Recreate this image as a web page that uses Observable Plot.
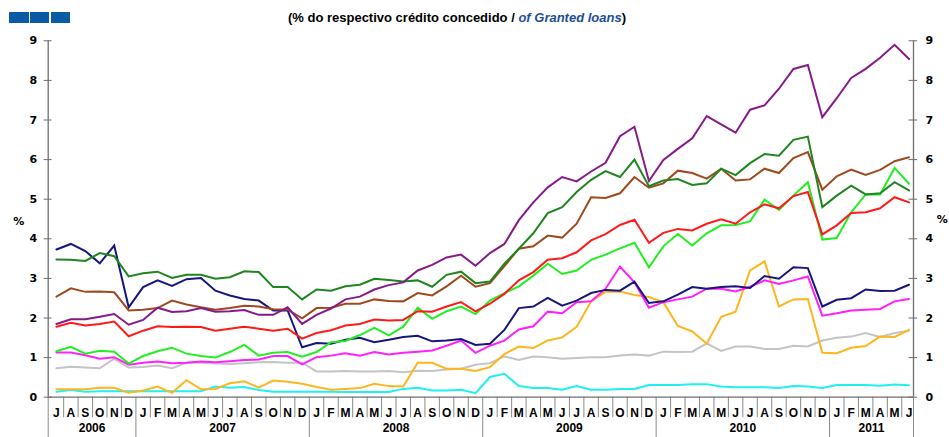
<!DOCTYPE html>
<html>
<head>
<meta charset="utf-8">
<script src="https://cdn.jsdelivr.net/npm/d3@7"></script>
<script src="https://cdn.jsdelivr.net/npm/@observablehq/plot@0.6"></script>
<style>
  html, body { margin: 0; padding: 0; background: #fff; }
  #wrap { position: relative; width: 949px; height: 437px; overflow: hidden; }
  #sub { position: absolute; top: 10px; left: 0; width: 914px; text-align: center;
         font-family: "Liberation Sans Narrow", "Arial Narrow", "Liberation Sans", sans-serif;
         font-stretch: condensed; font-weight: bold; font-size: 13px; color: #000; white-space: nowrap; }
  #sub i { color: #1d4f94; }
  .sq { position: absolute; top: 12px; height: 11px; background: #0b5aa5; }
  #chart { position: absolute; top: 0; left: 0; }
</style>
</head>
<body>
<div id="wrap">
  <div class="sq" style="left:9px;width:20px"></div>
  <div class="sq" style="left:30px;width:19px"></div>
  <div class="sq" style="left:51px;width:19px"></div>
  <div id="sub">(% do respectivo crédito concedido / <i>of Granted loans</i>)</div>
  <div id="chart"></div>
</div>
<script>
const monthLabels = ["J","A","S","O","N","D",
  "J","F","M","A","M","J","J","A","S","O","N","D",
  "J","F","M","A","M","J","J","A","S","O","N","D",
  "J","F","M","A","M","J","J","A","S","O","N","D",
  "J","F","M","A","M","J","J","A","S","O","N","D",
  "J","F","M","A","M","J"];
const yearLabels = ["2006","2007","2008","2009","2010","2011"];
const yearFirstMonth = [0, 6, 18, 30, 42, 54];
const yearLastMonth = [5, 17, 29, 41, 53, 59];
const yTicks = [0,1,2,3,4,5,6,7,8,9];

const purple = [1.85,1.97,1.97,2.03,2.10,1.83,
  1.95,2.26,2.15,2.17,2.25,2.16,2.17,2.20,2.08,2.08,2.27,1.85,
  2.08,2.24,2.47,2.54,2.72,2.83,2.90,3.20,3.34,3.53,3.60,3.32,
  3.64,3.87,4.47,4.92,5.30,5.56,5.45,5.70,5.92,6.59,6.83,5.46,
  5.99,6.27,6.54,7.10,6.89,6.68,7.26,7.37,7.79,8.29,8.39,7.07,
  7.55,8.06,8.29,8.57,8.90,8.54];
const darkGreen = [3.48,3.47,3.44,3.64,3.56,3.05,
  3.13,3.17,3.01,3.09,3.09,2.99,3.03,3.18,3.16,2.78,2.78,2.47,
  2.72,2.69,2.80,2.84,2.99,2.96,2.92,2.95,2.79,3.09,3.17,2.88,
  2.92,3.37,3.75,4.14,4.65,4.80,5.18,5.49,5.71,5.56,6.00,5.33,
  5.47,5.51,5.36,5.40,5.77,5.61,5.91,6.14,6.10,6.50,6.58,4.80,
  5.09,5.34,5.12,5.15,5.43,5.22];
const brown = [2.54,2.75,2.66,2.67,2.65,2.19,
  2.21,2.25,2.44,2.34,2.27,2.21,2.25,2.31,2.29,2.22,2.21,1.99,
  2.25,2.26,2.36,2.36,2.47,2.43,2.42,2.63,2.57,2.80,3.07,2.79,
  2.88,3.31,3.75,3.81,4.08,4.03,4.38,5.05,5.03,5.15,5.56,5.29,
  5.40,5.72,5.66,5.52,5.77,5.47,5.50,5.77,5.66,6.04,6.19,5.24,
  5.58,5.75,5.61,5.74,5.96,6.06];
const red = [1.78,1.88,1.81,1.85,1.91,1.54,
  1.68,1.79,1.77,1.78,1.77,1.68,1.73,1.78,1.73,1.68,1.73,1.48,
  1.62,1.69,1.81,1.85,1.96,1.94,1.95,2.17,2.16,2.29,2.40,2.17,
  2.36,2.61,2.95,3.16,3.47,3.51,3.66,3.96,4.12,4.35,4.48,3.90,
  4.15,4.25,4.21,4.38,4.49,4.38,4.67,4.87,4.77,5.08,5.18,4.11,
  4.34,4.65,4.67,4.77,5.05,4.92];
const lime = [1.16,1.27,1.10,1.17,1.15,0.85,
  1.04,1.16,1.25,1.10,1.04,1.00,1.14,1.32,1.05,1.12,1.14,1.02,
  1.14,1.39,1.42,1.57,1.75,1.56,1.78,2.26,1.98,2.17,2.29,2.10,
  2.44,2.63,2.80,3.07,3.37,3.11,3.20,3.47,3.60,3.76,3.90,3.28,
  3.81,4.12,3.83,4.14,4.34,4.35,4.44,4.99,4.73,5.09,5.43,3.98,
  4.02,4.67,5.12,5.12,5.79,5.39];
const navy = [3.73,3.87,3.69,3.38,3.83,2.27,
  2.78,2.95,2.81,2.98,3.01,2.69,2.57,2.48,2.44,2.19,2.19,1.26,
  1.37,1.35,1.45,1.50,1.39,1.45,1.52,1.55,1.41,1.43,1.47,1.32,
  1.35,1.70,2.25,2.29,2.51,2.31,2.44,2.63,2.71,2.69,2.92,2.38,
  2.42,2.59,2.78,2.74,2.78,2.80,2.76,3.06,2.99,3.28,3.26,2.29,
  2.46,2.50,2.72,2.68,2.69,2.84];
const magenta = [1.13,1.13,1.06,0.97,1.01,0.82,
  0.87,0.90,0.86,0.87,0.90,0.88,0.91,0.94,0.95,1.04,1.04,0.83,
  1.01,1.05,1.11,1.05,1.14,1.08,1.12,1.15,1.18,1.30,1.43,1.12,
  1.30,1.43,1.71,1.79,2.16,2.12,2.40,2.42,2.74,3.30,2.90,2.26,
  2.40,2.47,2.54,2.74,2.74,2.67,2.79,2.95,2.86,2.95,3.05,2.06,
  2.12,2.19,2.21,2.23,2.42,2.48];
const orange = [0.20,0.20,0.20,0.24,0.24,0.11,
  0.17,0.27,0.11,0.43,0.20,0.21,0.35,0.40,0.24,0.42,0.39,0.34,
  0.26,0.19,0.21,0.23,0.34,0.28,0.27,0.87,0.87,0.72,0.72,0.66,
  0.76,1.09,1.28,1.24,1.43,1.51,1.78,2.42,2.66,2.67,2.58,2.53,
  2.40,1.80,1.66,1.35,2.03,2.16,3.20,3.43,2.29,2.47,2.48,1.12,
  1.11,1.25,1.29,1.53,1.52,1.70];
const grey = [0.73,0.77,0.75,0.73,0.97,0.75,
  0.76,0.80,0.73,0.87,0.87,0.85,0.84,0.86,0.88,0.89,0.87,0.87,
  0.65,0.65,0.66,0.65,0.65,0.66,0.63,0.67,0.66,0.70,0.72,0.82,
  0.86,1.03,0.94,1.03,1.01,0.97,0.99,1.01,1.01,1.05,1.08,1.05,
  1.15,1.14,1.15,1.36,1.17,1.28,1.28,1.22,1.22,1.30,1.28,1.43,
  1.50,1.53,1.62,1.52,1.62,1.68];
const cyan = [0.14,0.18,0.14,0.15,0.15,0.15,
  0.15,0.15,0.15,0.15,0.15,0.27,0.24,0.26,0.18,0.14,0.14,0.14,
  0.14,0.14,0.13,0.13,0.13,0.13,0.21,0.24,0.17,0.17,0.19,0.10,
  0.51,0.59,0.28,0.23,0.23,0.19,0.28,0.19,0.19,0.21,0.21,0.31,
  0.31,0.31,0.33,0.33,0.27,0.25,0.25,0.25,0.23,0.28,0.27,0.23,
  0.31,0.31,0.31,0.29,0.32,0.30];

const series = [
  {name: "grey", values: grey, color: "#c4c4c4"},
  {name: "cyan", values: cyan, color: "#1ff0f0"},
  {name: "orange", values: orange, color: "#ffb61e"},
  {name: "magenta", values: magenta, color: "#ff1fff"},
  {name: "navy", values: navy, color: "#16167e"},
  {name: "lime", values: lime, color: "#22ee22"},
  {name: "red", values: red, color: "#ff1a1a"},
  {name: "brown", values: brown, color: "#9e4a1e"},
  {name: "darkGreen", values: darkGreen, color: "#1f861f"},
  {name: "purple", values: purple, color: "#861a8a"}
];

const X0 = -0.57, X1 = 59.31;
const monthIdx = monthLabels.map((d, i) => i);
const monthSeps = d3.range(0, 59).map(i => i + 0.5).filter(s => !yearLastMonth.includes(s - 0.5));
const yearSeps = [X0, ...yearLastMonth.slice(0, 5).map(i => i + 0.5), X1];
const yearCenters = yearLabels.map((y, k) => {
  const a = k === 0 ? X0 : yearFirstMonth[k] - 0.5;
  const b = k === yearLabels.length - 1 ? X1 : yearLastMonth[k] + 0.5;
  return {label: y, x: (a + b) / 2};
});

const axisColor = "#6e6e6e";
const marks = [
  Plot.ruleX(monthSeps, {x: d => d, y1: () => 0, y2: () => -0.52, stroke: "#8a8a8a", strokeWidth: 1}),
  Plot.ruleX(yearSeps, {x: d => d, y1: () => 0, y2: () => -1.03, stroke: "#8a8a8a", strokeWidth: 1}),
  Plot.ruleX([X0, X1], {x: d => d, y1: () => 9, y2: () => 0, stroke: axisColor, strokeWidth: 1.3}),
  Plot.ruleY([0], {stroke: axisColor, strokeWidth: 1.3}),
  Plot.ruleY(yTicks, {y: d => d, x1: () => -0.85, x2: () => -0.3, stroke: axisColor}),
  Plot.ruleY(yTicks, {y: d => d, x1: () => 59.0, x2: () => 59.6, stroke: axisColor}),
  Plot.axisY({anchor: "left", ticks: yTicks, tickSize: 0, tickPadding: 11, tickFormat: d3.format("d"),
    fontFamily: "DejaVu Sans", fontWeight: "bold", fontSize: 11, fill: "#000", label: null}),
  Plot.axisY({anchor: "right", ticks: yTicks, tickSize: 0, tickPadding: 12, tickFormat: d3.format("d"),
    fontFamily: "DejaVu Sans", fontWeight: "bold", fontSize: 11, fill: "#000", label: null}),
  Plot.text(["%"], {x: () => -2.6, y: () => 4.45, text: d => d, fontFamily: "DejaVu Sans", fontWeight: "bold", fontSize: 11, fill: "#000"}),
  Plot.text(["%"], {x: () => 61.3, y: () => 4.5, text: d => d, fontFamily: "DejaVu Sans", fontWeight: "bold", fontSize: 11, fill: "#000"}),
  Plot.text(monthIdx, {x: d => d, y: () => -0.41, text: d => monthLabels[d], fontFamily: "Liberation Sans", fontWeight: "bold", fontSize: 12, fill: "#000", lineAnchor: "middle"}),
  Plot.text(yearCenters, {x: "x", y: () => -0.79, text: "label", fontFamily: "Liberation Sans", fontWeight: "bold", fontSize: 12, fill: "#000", lineAnchor: "middle"})
];
for (const s of series) {
  marks.push(Plot.line(s.values, {x: (d, i) => i, y: d => d, stroke: s.color, strokeWidth: 2, strokeLinejoin: "miter", strokeMiterlimit: 3}));
}

const chart = Plot.plot({
  width: 949,
  height: 437,
  marginLeft: 47.7,
  marginRight: 36,
  marginTop: 40.3,
  marginBottom: 40.3,
  x: {domain: [X0, X1], axis: null},
  y: {domain: [0, 9], axis: null},
  style: {background: "transparent", overflow: "visible"},
  marks
});
document.getElementById("chart").appendChild(chart);
</script>
</body>
</html>
